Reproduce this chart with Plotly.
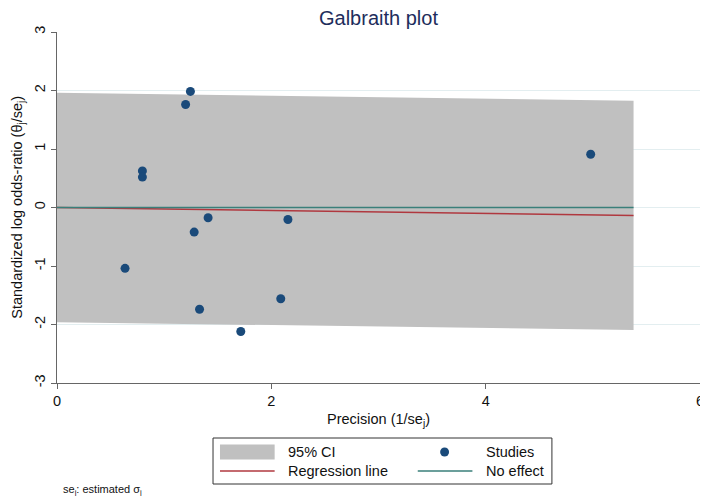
import plotly.graph_objects as go

# ---- data ----
precision = [1.245, 1.20, 0.797, 0.797, 1.41, 1.28, 2.155, 0.635, 2.088, 1.33, 1.715, 4.98]
std_effect = [1.985, 1.76, 0.626, 0.52, -0.176, -0.42, -0.205, -1.04, -1.56, -1.74, -2.12, 0.91]

line_x = [0, 5.38]
ci_upper = [1.96, 1.825]
ci_lower = [-1.96, -2.095]
regression_y = [0, -0.135]
no_effect_y = [0, 0]

x_ticks = [0, 2, 4, 6]
y_ticks = [-3, -2, -1, 0, 1, 2, 3]
y_tick_labels = ["-3", "-2", "-1", "0", "1", "2", "3"]

FONT = "Liberation Sans, Arial, Helvetica, sans-serif"
W, H = 708, 496
L, R, T, B = 49, 12, 24, 121
PW, PH = W - L - R, H - T - B

def pxx(x):
    return (x - L) / PW

def pxy(y):
    return (H - B - y) / PH

fig = go.Figure()

# CI band
fig.add_trace(go.Scatter(
    x=line_x + line_x[::-1], y=ci_upper + ci_lower[::-1],
    fill="toself", fillcolor="#c0c0c0", line=dict(width=0),
    mode="lines", hoverinfo="skip", showlegend=False))
# Regression line
fig.add_trace(go.Scatter(x=line_x, y=regression_y, mode="lines",
                         line=dict(color="#b0383f", width=1.5), showlegend=False))
# No effect line
fig.add_trace(go.Scatter(x=line_x, y=no_effect_y, mode="lines",
                         line=dict(color="#3a7f7a", width=1.5), showlegend=False))
# Studies
fig.add_trace(go.Scatter(x=precision, y=std_effect, mode="markers",
                         marker=dict(color="#1a4a7a", size=9), showlegend=False))

fig.update_layout(
    width=W, height=H,
    margin=dict(l=L, r=R, t=T, b=B),
    paper_bgcolor="white", plot_bgcolor="white",
    font=dict(family=FONT, size=14.5, color="#111"),
    showlegend=False,
    xaxis=dict(range=[0, 6], tickvals=x_ticks, showgrid=False, zeroline=False,
               showline=True, linecolor="#666", linewidth=1,
               ticks="outside", ticklen=5, tickcolor="#666",
               tickfont=dict(size=14.5, color="#111")),
    yaxis=dict(range=[-3, 3], tickvals=y_ticks, ticktext=y_tick_labels,
               showgrid=True, gridcolor="#e3eef0",
               gridwidth=1, zeroline=False,
               showline=True, linecolor="#666", linewidth=1,
               ticks="outside", ticklen=5, tickcolor="#666", tickangle=-90,
               tickfont=dict(size=14.5, color="#111")),
)

ann = []
# Title
ann.append(dict(text="Galbraith plot", x=0.5, y=pxy(10), xref="paper", yref="paper",
                xanchor="center", yanchor="middle", showarrow=False,
                font=dict(size=20, color="#1e2d5c", family=FONT)))
# Y title
ann.append(dict(text="Standardized log odds-ratio (θ<sub>j</sub>/se<sub>j</sub>)",
                x=pxx(9), y=0.5, xref="paper", yref="paper", textangle=-90,
                xanchor="center", yanchor="middle", showarrow=False,
                font=dict(size=14.5, color="#111", family=FONT)))
# X title
ann.append(dict(text="Precision (1/se<sub>j</sub>)", x=0.5, y=pxy(412), xref="paper",
                yref="paper", xanchor="center", yanchor="middle", showarrow=False,
                font=dict(size=14.5, color="#111", family=FONT)))
# Footnote
ann.append(dict(text="se<sub>j</sub>: estimated σ<sub>j</sub>", x=pxx(53), y=pxy(482),
                xref="paper", yref="paper", xanchor="left", yanchor="middle",
                showarrow=False, font=dict(size=11, color="#111", family=FONT)))

# Legend (manual)
shapes = []
bx0, bx1, by0, by1 = 206, 547, 430, 476
shapes.append(dict(type="rect", xref="paper", yref="paper",
                   x0=pxx(bx0), x1=pxx(bx1), y0=pxy(by1), y1=pxy(by0),
                   line=dict(color="#333", width=1), fillcolor="white"))
r1, r2 = 444, 463
shapes.append(dict(type="rect", xref="paper", yref="paper",
                   x0=pxx(213), x1=pxx(268), y0=pxy(r1 + 7.5), y1=pxy(r1 - 7.5),
                   line=dict(width=0), fillcolor="#c0c0c0"))
shapes.append(dict(type="line", xref="paper", yref="paper",
                   x0=pxx(213), x1=pxx(268), y0=pxy(r2), y1=pxy(r2),
                   line=dict(color="#b0383f", width=1.5)))
shapes.append(dict(type="line", xref="paper", yref="paper",
                   x0=pxx(412), x1=pxx(467), y0=pxy(r2), y1=pxy(r2),
                   line=dict(color="#3a7f7a", width=1.5)))
shapes.append(dict(type="circle", xref="paper", yref="paper",
                   x0=pxx(434.5), x1=pxx(443.5), y0=pxy(r1 + 4.5), y1=pxy(r1 - 4.5),
                   line=dict(width=0), fillcolor="#1a4a7a"))
for txt, xx, yy in [("95% CI", 279, r1), ("Studies", 479, r1),
                    ("Regression line", 279, r2), ("No effect", 479, r2)]:
    ann.append(dict(text=txt, x=pxx(xx), y=pxy(yy), xref="paper", yref="paper",
                    xanchor="left", yanchor="middle", showarrow=False,
                    font=dict(size=14.5, color="#111", family=FONT)))

fig.update_layout(annotations=ann, shapes=shapes)
fig.write_html("out.html")
